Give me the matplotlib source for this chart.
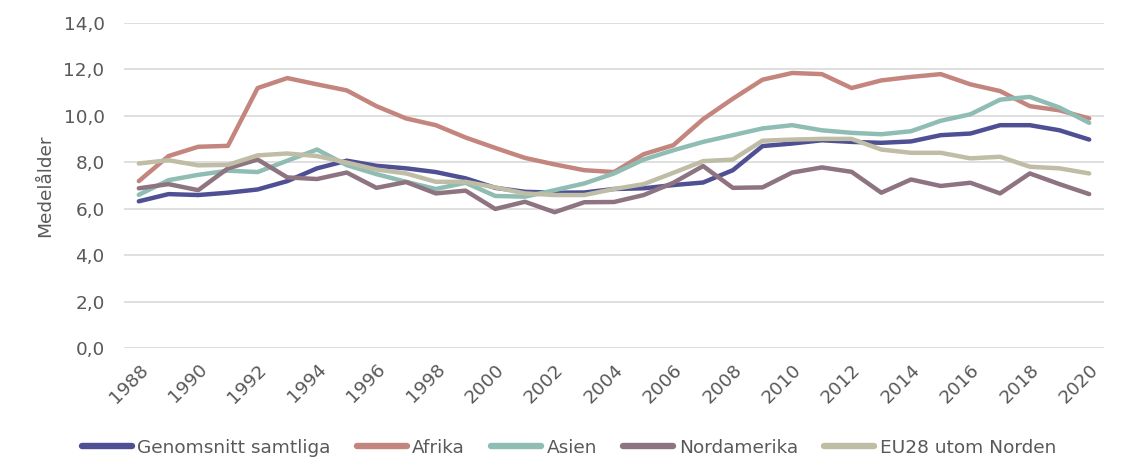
import numpy as np
import matplotlib
matplotlib.use("Agg")
import matplotlib.pyplot as plt
from matplotlib.ticker import FuncFormatter

# --- data ---
years = list(range(1988, 2021))

genomsnitt = [6.32, 6.63, 6.59, 6.69, 6.83, 7.19, 7.74, 8.07, 7.85, 7.74, 7.58,
              7.31, 6.90, 6.73, 6.69, 6.70, 6.85, 6.88, 7.02, 7.13, 7.66, 8.70,
              8.81, 8.95, 8.88, 8.84, 8.90, 9.17, 9.24, 9.60, 9.60, 9.38, 8.98]
afrika = [7.19, 8.27, 8.67, 8.71, 11.20, 11.63, 11.36, 11.10, 10.42, 9.89, 9.60,
          9.07, 8.62, 8.19, 7.91, 7.66, 7.58, 8.35, 8.74, 9.86, 10.74, 11.56,
          11.85, 11.80, 11.20, 11.53, 11.68, 11.80, 11.36, 11.07, 10.42, 10.24, 9.89]
asien = [6.60, 7.23, 7.46, 7.64, 7.58, 8.07, 8.55, 7.88, 7.49, 7.16, 6.85,
         7.12, 6.55, 6.52, 6.80, 7.09, 7.52, 8.12, 8.52, 8.88, 9.17, 9.46,
         9.60, 9.38, 9.27, 9.21, 9.34, 9.79, 10.07, 10.70, 10.82, 10.36, 9.70]
nordamerika = [6.88, 7.06, 6.80, 7.74, 8.12, 7.35, 7.28, 7.56, 6.90, 7.15, 6.66,
               6.78, 5.99, 6.30, 5.85, 6.28, 6.29, 6.59, 7.12, 7.84, 6.90, 6.92,
               7.56, 7.78, 7.59, 6.69, 7.26, 6.98, 7.12, 6.66, 7.52, 7.06, 6.63]
eu28 = [7.95, 8.09, 7.87, 7.89, 8.30, 8.38, 8.27, 7.99, 7.69, 7.52, 7.16,
        7.16, 6.92, 6.66, 6.59, 6.59, 6.85, 7.06, 7.55, 8.05, 8.12, 8.93,
        8.98, 9.01, 9.01, 8.55, 8.41, 8.41, 8.17, 8.24, 7.81, 7.74, 7.52]

series_names = ["Genomsnitt samtliga", "Afrika", "Asien", "Nordamerika", "EU28 utom Norden"]
series_colors = ["#4F4F94", "#C4857F", "#8FBDB3", "#8E7380", "#BFBDA6"]

plt.rcParams['font.family'] = ['DejaVu Sans']
FS = 13.3
TXT = '#595959'

fig = plt.figure(figsize=(11.22, 4.76), dpi=100)
ax = fig.add_axes([0.1105, 0.269, 0.8735, 0.6825])

for vals, name, col in zip([genomsnitt, afrika, asien, nordamerika, eu28],
                           series_names, series_colors):
    ax.plot(years, vals, color=col, lw=3.2, label=name,
            solid_capstyle='round', solid_joinstyle='round', zorder=3)

ax.set_xlim(1987.5, 2020.5)
ax.set_ylim(0, 14)
ax.set_yticks(np.arange(0, 15, 2))
ax.yaxis.set_major_formatter(FuncFormatter(lambda v, p: f"{v:.1f}".replace(".", ",")))
ax.set_xticks(years[::2])
ax.set_xticklabels([str(y) for y in years[::2]], rotation=45, ha='right',
                   rotation_mode='anchor')

ax.grid(axis='y', color='#D9D9D9', lw=1.2, zorder=0)
for s in ax.spines.values():
    s.set_visible(False)
ax.tick_params(axis='both', length=0, labelsize=FS, colors=TXT)
ax.tick_params(axis='y', pad=14)
ax.tick_params(axis='x', pad=9)
ax.set_ylabel("Medelålder", fontsize=FS, color=TXT, labelpad=7)

leg = fig.legend(loc='center', bbox_to_anchor=(0.507, 0.059), ncol=5, frameon=False,
                 fontsize=FS, handlelength=2.7, handletextpad=0.3, columnspacing=1.42,
                 labelcolor=TXT)
for h in leg.get_lines():
    h.set_linewidth(4.6)

fig.savefig("out.png", dpi=100)
